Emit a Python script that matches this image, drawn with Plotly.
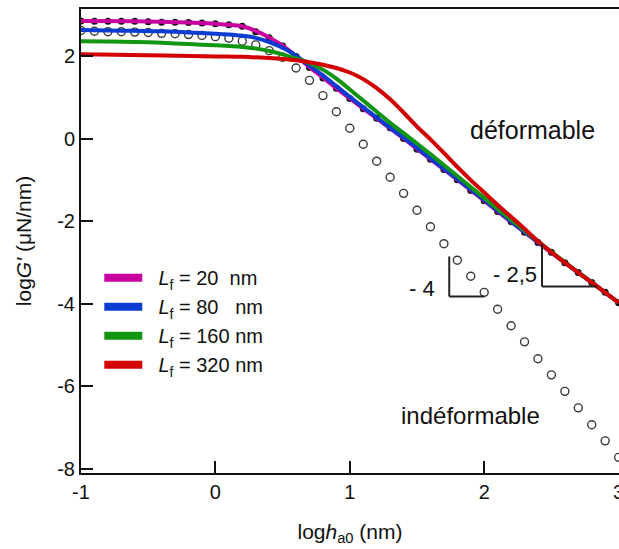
import plotly.graph_objects as go

# ---------------- data ----------------
x_pts = [-1.0, -0.9, -0.8, -0.7, -0.6, -0.5, -0.4, -0.3, -0.2, -0.1,
         0.0, 0.1, 0.2, 0.3, 0.4, 0.5, 0.6, 0.7, 0.8, 0.9,
         1.0, 1.1, 1.2, 1.3, 1.4, 1.5, 1.6, 1.7, 1.8, 1.9,
         2.0, 2.1, 2.2, 2.3, 2.4, 2.5, 2.6, 2.7, 2.8, 2.9, 3.0]

# indeformable (open circles)
y_indef = [2.63, 2.61, 2.60, 2.60, 2.59, 2.58, 2.56, 2.55, 2.53, 2.51,
           2.48, 2.44, 2.37, 2.28, 2.14, 1.98, 1.72, 1.42, 1.05, 0.66,
           0.26, -0.13, -0.54, -0.93, -1.32, -1.73, -2.13, -2.54, -2.94, -3.33,
           -3.72, -4.13, -4.53, -4.92, -5.33, -5.72, -6.12, -6.52, -6.93, -7.32, -7.72]

# deformable (filled dots)
y_def = [2.86, 2.85, 2.85, 2.85, 2.85, 2.84, 2.83, 2.83, 2.82, 2.81,
         2.79, 2.77, 2.73, 2.60, 2.45, 2.25, 2.00, 1.73, 1.48, 1.23,
         0.98, 0.73, 0.50, 0.27, 0.01, -0.25, -0.49, -0.74, -0.99, -1.25,
         -1.50, -1.76, -2.01, -2.26, -2.51, -2.75, -3.00, -3.24, -3.48, -3.72, -3.97]

# curves
x_c20 = [-1.0, -0.6, -0.2, 0.0, 0.1, 0.2, 0.3, 0.4, 0.5, 0.6, 0.7, 0.8, 0.9, 1.0,
         1.2, 1.4, 1.6, 1.8, 2.0, 2.2, 2.4, 2.6, 2.8, 3.0]
y_c20 = [2.86, 2.85, 2.82, 2.79, 2.77, 2.73, 2.62, 2.46, 2.26, 2.01, 1.74, 1.49, 1.23, 0.98,
         0.50, 0.01, -0.49, -0.99, -1.50, -2.01, -2.51, -3.00, -3.48, -3.97]

x_c80 = [-1.0, -0.8, -0.6, -0.4, -0.2, 0.0, 0.1, 0.2, 0.3, 0.4, 0.5, 0.6, 0.7, 0.8, 0.9, 1.0,
         1.2, 1.4, 1.6, 1.8, 2.0, 2.2, 2.4, 2.6, 2.8, 3.0]
y_c80 = [2.64, 2.63, 2.62, 2.61, 2.58, 2.55, 2.53, 2.50, 2.45, 2.35, 2.21, 2.02, 1.78, 1.54, 1.28, 1.02,
         0.52, 0.03, -0.47, -0.97, -1.48, -2.00, -2.50, -3.00, -3.48, -3.97]

x_c160 = [-1.0, -0.8, -0.6, -0.4, -0.2, 0.0, 0.2, 0.3, 0.4, 0.5, 0.6, 0.7, 0.8, 0.9, 1.0,
          1.1, 1.2, 1.3, 1.4, 1.5, 1.6, 1.8, 2.0, 2.2, 2.4, 2.6, 2.8, 3.0]
y_c160 = [2.37, 2.36, 2.35, 2.33, 2.30, 2.27, 2.23, 2.19, 2.13, 2.05, 1.95, 1.84, 1.68, 1.46, 1.20,
          0.93, 0.66, 0.39, 0.14, -0.11, -0.37, -0.90, -1.43, -1.96, -2.48, -2.99, -3.48, -3.97]

x_c320 = [-1.0, -0.5, 0.0, 0.2, 0.4, 0.5, 0.6, 0.7, 0.8, 0.9, 1.0, 1.1, 1.2, 1.3, 1.4,
          1.5, 1.6, 1.7, 1.8, 1.9, 2.0, 2.1, 2.2, 2.3, 2.4, 2.6, 2.8, 3.0]
y_c320 = [2.05, 2.03, 2.00, 1.99, 1.96, 1.94, 1.91, 1.86, 1.80, 1.72, 1.61, 1.45, 1.23, 0.96, 0.64,
          0.30, -0.01, -0.34, -0.68, -1.00, -1.30, -1.60, -1.89, -2.18, -2.48, -3.00, -3.48, -3.97]

curve_names = ["\u00a0\u00a0<i>L</i><sub>f</sub> = 20\u00a0\u00a0nm",
               "\u00a0\u00a0<i>L</i><sub>f</sub> = 80\u00a0\u00a0\u00a0nm",
               "\u00a0\u00a0<i>L</i><sub>f</sub> = 160 nm",
               "\u00a0\u00a0<i>L</i><sub>f</sub> = 320 nm"]
curve_colors = ["#c800a0", "#0a3cd2", "#129612", "#d20000"]
curves_x = [x_c20, x_c80, x_c160, x_c320]
curves_y = [y_c20, y_c80, y_c160, y_c320]

y_tickvals = [2, 0, -2, -4, -6, -8]
y_ticktext = ["2", "0", "-2", "-4", "-6", "-8"]
x_tickvals = [-1, 0, 1, 2, 3]
x_ticktext = ["-1", "0", "1", "2", "3"]

# ---------------- figure ----------------
fig = go.Figure()

fig.add_trace(go.Scatter(x=x_pts, y=y_indef, mode="markers", showlegend=False,
                         marker=dict(symbol="circle-open", size=8, color="#3a3a3a",
                                     line=dict(width=1.4, color="#3a3a3a"))))
fig.add_trace(go.Scatter(x=x_pts, y=y_def, mode="markers", showlegend=False,
                         marker=dict(symbol="circle", size=7, color="#111111")))

for xs, ys, col in zip(curves_x, curves_y, curve_colors):
    fig.add_trace(go.Scatter(x=xs, y=ys, mode="lines", showlegend=False,
                             line=dict(color=col, width=4, shape="spline", smoothing=0.8)))

# legend-only entries (thicker lines as in the reference)
for name, col in zip(curve_names, curve_colors):
    fig.add_trace(go.Scatter(x=[None], y=[None], mode="lines", name=name,
                             line=dict(color=col, width=8)))

font_main = "Liberation Sans, Arial, sans-serif"

fig.update_layout(
    width=619, height=549,
    margin=dict(l=81, r=0, t=9, b=76, autoexpand=False),
    paper_bgcolor="white", plot_bgcolor="white",
    font=dict(family=font_main, size=20, color="#111111"),
    showlegend=True,
    legend=dict(x=0.034, y=0.463, xanchor="left", yanchor="top",
                bgcolor="rgba(0,0,0,0)", font=dict(size=20, color="#111111"),
                itemwidth=38, tracegroupgap=0),
    xaxis=dict(range=[-1, 3.003], showgrid=False, zeroline=False, automargin=False,
               showline=True, linecolor="#111111", linewidth=2, mirror=True,
               ticks="inside", ticklen=12, tickwidth=2, tickcolor="#111111",
               tickvals=x_tickvals, ticktext=x_ticktext, ticklabeloverflow="allow",
               tickfont=dict(size=20),
               title=dict(text="log<i>h</i><sub>a0</sub> (nm)", font=dict(size=21), standoff=22)),
    yaxis=dict(range=[-8.1, 3.15], showgrid=False, zeroline=False, automargin=False,
               showline=True, linecolor="#111111", linewidth=2, mirror=False,
               ticks="inside", ticklen=12, tickwidth=2, tickcolor="#111111",
               tickvals=y_tickvals, ticktext=y_ticktext,
               tickfont=dict(size=20),
               title=dict(text="log<i>G\u2032</i> (\u03bcN/nm)", font=dict(size=21), standoff=20)),
)

# slope triangles
tri_col = "#222222"
fig.add_shape(type="line", x0=1.74, x1=1.74, y0=-2.85, y1=-3.82, line=dict(color=tri_col, width=2))
fig.add_shape(type="line", x0=1.74, x1=2.0, y0=-3.82, y1=-3.82, line=dict(color=tri_col, width=2))
fig.add_shape(type="line", x0=2.43, x1=2.43, y0=-2.55, y1=-3.58, line=dict(color=tri_col, width=2))
fig.add_shape(type="line", x0=2.43, x1=2.84, y0=-3.58, y1=-3.58, line=dict(color=tri_col, width=2))

fig.add_annotation(x=1.535, y=-3.63, text="- 4", showarrow=False, font=dict(size=22))
fig.add_annotation(x=2.23, y=-3.28, text="- 2,5", showarrow=False, font=dict(size=22))
fig.add_annotation(x=2.36, y=0.21, text="déformable", showarrow=False, font=dict(size=25))
fig.add_annotation(x=1.9, y=-6.7, text="indéformable", showarrow=False, font=dict(size=24))

fig.write_html("out.html", config={"displayModeBar": False},
               post_script="document.body.style.margin='0';document.body.style.overflow='hidden';")
